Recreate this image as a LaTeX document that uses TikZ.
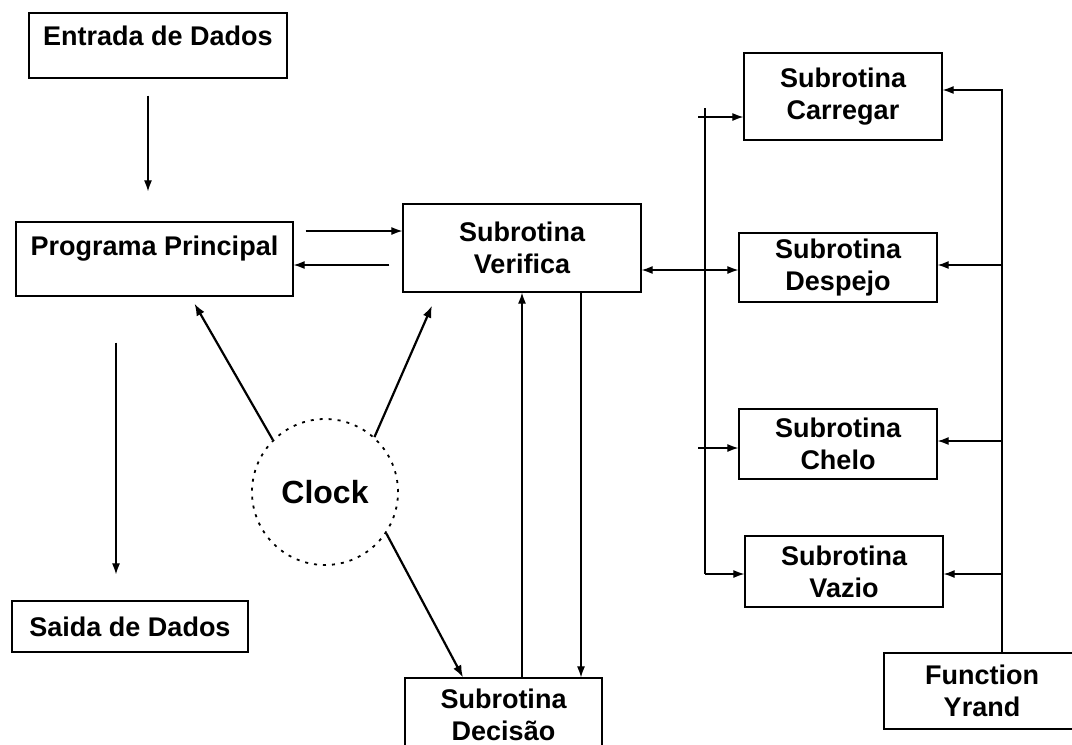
\documentclass[tikz,border=0pt]{standalone}
\usepackage{fontspec}
\setmainfont{Liberation Sans}
\usetikzlibrary{arrows.meta}
\begin{document}
\begin{tikzpicture}[x=1pt,y=-1pt,
  box/.style={draw, line width=1.3pt, rectangle, inner sep=0pt, align=center,
    font=\fontsize{27}{32}\selectfont\bfseries},
  arr/.style={-{Latex[length=11pt,width=8pt]}, line width=1.2pt},
  arrtwo/.style={{Latex[length=11pt,width=8pt]}-{Latex[length=11pt,width=8pt]}, line width=1.2pt},
  clk/.style={-{Latex[length=12pt,width=9pt]}, line width=2.2pt},
  bus/.style={line width=1.2pt}]
\useasboundingbox (0,0) rectangle (1072,745);

% boxes
\node[box, minimum width=258pt, minimum height=65pt, text depth=19pt] (entrada) at (158,45.5) {Entrada de Dados};
\node[box, minimum width=277pt, minimum height=74pt, text depth=26pt] (prog) at (154.5,259) {Programa Principal};
\node[box, minimum width=236pt, minimum height=51pt] (saida) at (130,626.5) {Saida de Dados};
\node[box, minimum width=238pt, minimum height=88pt] (verif) at (522,248) {Subrotina\\Verifica};
\node[box, minimum width=198pt, minimum height=87pt] (carr) at (843,96.5) {Subrotina\\Carregar};
\node[box, minimum width=198pt, minimum height=69pt] (desp) at (838,267.5) {Subrotina\\Despejo};
\node[box, minimum width=198pt, minimum height=70pt] (chelo) at (838,444) {Subrotina\\Chelo};
\node[box, minimum width=198pt, minimum height=71pt] (vazio) at (844,571.5) {Subrotina\\Vazio};
\node[box, minimum width=196pt, minimum height=76pt] (yrand) at (982,691) {Function\\Yrand};
\node[box, minimum width=197pt, minimum height=74pt] (decis) at (503.5,715) {Subrotina\\Decisão};
\node[draw, circle, dash pattern=on 3pt off 6pt, line width=1.8pt, minimum size=146pt, inner sep=0pt,
  font=\fontsize{32}{36}\selectfont\bfseries] (clock) at (325,492) {Clock};

% left column
\draw[arr] ([xshift=-10pt,yshift=-17pt]entrada.south) -- ([xshift=-6.5pt,yshift=30pt]prog.north);
\draw[arr] ([xshift=-38.5pt,yshift=-46pt]prog.south) -- ([xshift=-14pt,yshift=26pt]saida.north);

% programa <-> verifica
\draw[arr] ([xshift=12pt,yshift=28pt]prog.east) -- ([yshift=17pt]verif.west);
\draw[arr] ([xshift=-13pt,yshift=-17pt]verif.west) -- ([yshift=-6pt]prog.east);

% clock
\draw[clk] (clock.135) -- ([xshift=40pt,yshift=-7pt]prog.south);
\draw[clk] (clock.48) -- ([xshift=-90pt,yshift=-13pt]verif.south);
\draw[clk] (clock.-34) -- ([xshift=-40.5pt]decis.north);

% verifica <-> decisao
\draw[arr] (verif.south |- decis.north) -- (verif.south);
\draw[arr] ([xshift=59pt]verif.south) -- ([xshift=59pt]verif.south |- decis.north);

% verifica <-> bus
\draw[arrtwo] ([yshift=-22pt]verif.east) -- ([yshift=-22pt]verif.east -| desp.west);

% left bus
\coordinate (bustop) at (705,108);
\coordinate (busbot) at (705,574);
\coordinate (c1) at (698,117);
\coordinate (c3) at (698,448);
\draw[bus] (bustop) -- (busbot);
\draw[arr] (busbot) -- (busbot -| vazio.west);
\draw[arr] (c1) -- (c1 -| carr.west);
\draw[arr] (c3) -- (c3 -| chelo.west);

% right bus
\coordinate (rtop) at (1002,90);
\coordinate (r2) at (1002,265);
\coordinate (r3) at (1002,441);
\coordinate (r4) at (1002,574);
\draw[arr] (yrand.north -| rtop) -- (rtop) -- (rtop -| carr.east);
\draw[arr] (r2) -- (r2 -| desp.east);
\draw[arr] (r3) -- (r3 -| chelo.east);
\draw[arr] (r4) -- (r4 -| vazio.east);
\end{tikzpicture}
\end{document}
